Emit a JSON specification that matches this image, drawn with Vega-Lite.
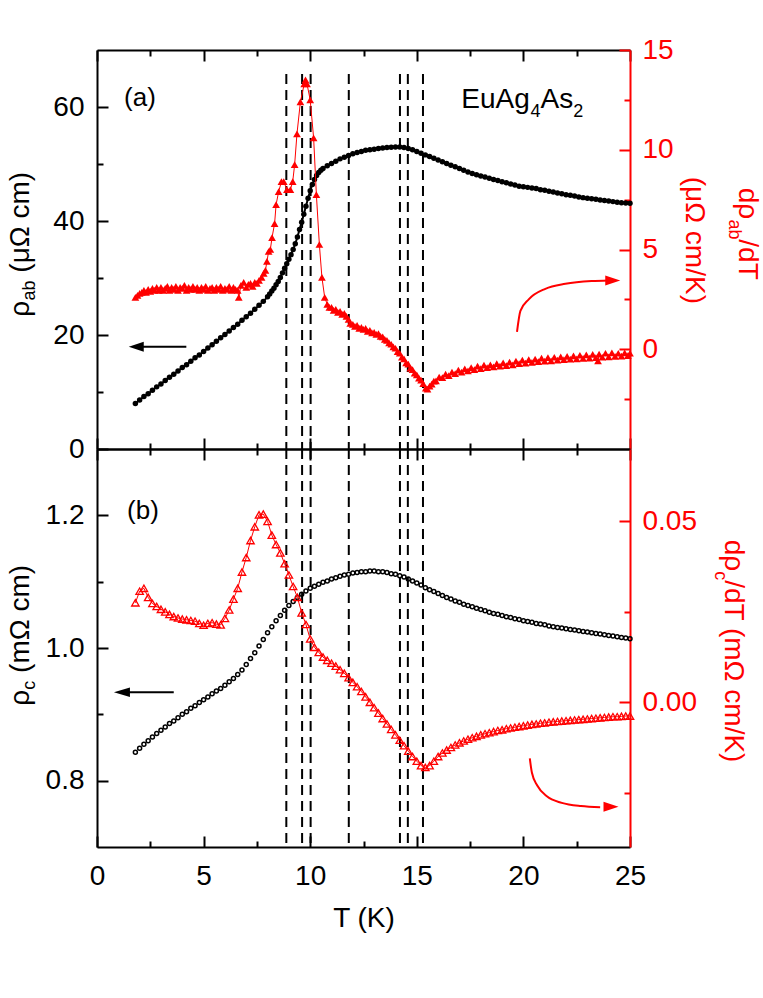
{
"$schema":"https://vega.github.io/schema/vega-lite/v6.json",
"background":"white",
"padding":{"left":7,"top":36,"right":5,"bottom":5},
"spacing":0,
"bounds":"flush",
"config":{"view":{"stroke":null},"font":"Liberation Sans",
"axis":{"grid":false,"domainWidth":2,"tickWidth":2,"domainColor":"black","tickColor":"black","labelColor":"black","labelFont":"Liberation Sans","labelFontSize":28,"titleFont":"Liberation Sans","titleFontSize":28,"titleFontWeight":"normal","titleColor":"black","labelFlush":false,"labelOverlap":false},
"text":{"font":"Liberation Sans","fontSize":28,"color":"black"}},
"datasets":{
"dash":[{"T":8.88},{"T":9.62},{"T":10.02},{"T":11.81},{"T":14.21},{"T":14.58},{"T":15.29}],
"ab":[{"T":1.8,"r":8.0},{"T":2.0,"r":8.6},{"T":2.2,"r":9.2},{"T":2.4,"r":9.7},{"T":2.6,"r":10.3},{"T":2.8,"r":10.9},{"T":3.0,"r":11.4},{"T":3.2,"r":12.0},{"T":3.4,"r":12.6},{"T":3.6,"r":13.1},{"T":3.8,"r":13.7},{"T":4.0,"r":14.3},{"T":4.2,"r":14.8},{"T":4.4,"r":15.4},{"T":4.6,"r":16.0},{"T":4.8,"r":16.5},{"T":5.0,"r":17.1},{"T":5.2,"r":17.7},{"T":5.4,"r":18.3},{"T":5.6,"r":18.9},{"T":5.8,"r":19.5},{"T":6.0,"r":20.1},{"T":6.2,"r":20.7},{"T":6.4,"r":21.3},{"T":6.6,"r":21.9},{"T":6.8,"r":22.6},{"T":7.0,"r":23.2},{"T":7.2,"r":23.8},{"T":7.4,"r":24.5},{"T":7.6,"r":25.2},{"T":7.8,"r":25.9},{"T":8.0,"r":26.7},{"T":8.1,"r":27.2},{"T":8.2,"r":27.7},{"T":8.3,"r":28.2},{"T":8.4,"r":28.8},{"T":8.5,"r":29.4},{"T":8.6,"r":30.1},{"T":8.7,"r":30.9},{"T":8.8,"r":31.7},{"T":8.9,"r":32.5},{"T":9.0,"r":33.3},{"T":9.1,"r":34.1},{"T":9.2,"r":35.0},{"T":9.3,"r":36.0},{"T":9.4,"r":37.2},{"T":9.5,"r":38.5},{"T":9.6,"r":39.8},{"T":9.7,"r":41.2},{"T":9.8,"r":42.6},{"T":9.9,"r":44.0},{"T":10.0,"r":45.3},{"T":10.1,"r":46.4},{"T":10.2,"r":47.3},{"T":10.3,"r":48.0},{"T":10.4,"r":48.5},{"T":10.5,"r":48.9},{"T":10.6,"r":49.2},{"T":10.8,"r":49.7},{"T":11.0,"r":50.1},{"T":11.2,"r":50.5},{"T":11.4,"r":50.9},{"T":11.6,"r":51.2},{"T":11.8,"r":51.5},{"T":12.0,"r":51.8},{"T":12.2,"r":52.0},{"T":12.4,"r":52.2},{"T":12.6,"r":52.4},{"T":12.8,"r":52.5},{"T":13.0,"r":52.6},{"T":13.2,"r":52.7},{"T":13.4,"r":52.8},{"T":13.6,"r":52.9},{"T":13.8,"r":52.95},{"T":14.0,"r":53.0},{"T":14.2,"r":53.0},{"T":14.4,"r":52.9},{"T":14.6,"r":52.7},{"T":14.8,"r":52.5},{"T":15.0,"r":52.2},{"T":15.2,"r":51.9},{"T":15.4,"r":51.6},{"T":15.6,"r":51.3},{"T":15.8,"r":51.0},{"T":16.0,"r":50.7},{"T":16.2,"r":50.4},{"T":16.4,"r":50.1},{"T":16.6,"r":49.8},{"T":16.8,"r":49.5},{"T":17.0,"r":49.2},{"T":17.2,"r":48.9},{"T":17.4,"r":48.6},{"T":17.6,"r":48.35},{"T":17.8,"r":48.1},{"T":18.0,"r":47.9},{"T":18.2,"r":47.7},{"T":18.4,"r":47.5},{"T":18.6,"r":47.3},{"T":18.8,"r":47.1},{"T":19.0,"r":46.9},{"T":19.2,"r":46.7},{"T":19.4,"r":46.5},{"T":19.6,"r":46.3},{"T":19.8,"r":46.1},{"T":20.0,"r":46.0},{"T":20.2,"r":45.9},{"T":20.4,"r":45.8},{"T":20.6,"r":45.7},{"T":20.8,"r":45.5},{"T":21.0,"r":45.4},{"T":21.2,"r":45.2},{"T":21.4,"r":45.1},{"T":21.6,"r":44.9},{"T":21.8,"r":44.8},{"T":22.0,"r":44.6},{"T":22.2,"r":44.5},{"T":22.4,"r":44.4},{"T":22.6,"r":44.2},{"T":22.8,"r":44.1},{"T":23.0,"r":44.0},{"T":23.2,"r":43.9},{"T":23.4,"r":43.8},{"T":23.6,"r":43.7},{"T":23.8,"r":43.6},{"T":24.0,"r":43.5},{"T":24.2,"r":43.4},{"T":24.4,"r":43.3},{"T":24.6,"r":43.2},{"T":24.8,"r":43.15},{"T":25.0,"r":43.1}],
"dab":[{"T":1.8,"d":2.6},{"T":1.9,"d":2.7},{"T":2.0,"d":2.8},{"T":2.1,"d":2.85},{"T":2.2,"d":2.95},{"T":2.3,"d":2.85},{"T":2.4,"d":3.0},{"T":2.5,"d":2.9},{"T":2.6,"d":3.05},{"T":2.7,"d":2.95},{"T":2.8,"d":3.1},{"T":2.9,"d":2.95},{"T":3.0,"d":3.1},{"T":3.1,"d":2.95},{"T":3.2,"d":3.05},{"T":3.3,"d":3.15},{"T":3.4,"d":2.95},{"T":3.5,"d":3.1},{"T":3.6,"d":3.0},{"T":3.7,"d":3.15},{"T":3.8,"d":2.95},{"T":3.9,"d":3.1},{"T":4.0,"d":3.05},{"T":4.1,"d":3.2},{"T":4.2,"d":2.95},{"T":4.3,"d":3.1},{"T":4.4,"d":3.0},{"T":4.5,"d":3.15},{"T":4.6,"d":3.0},{"T":4.7,"d":3.1},{"T":4.8,"d":2.95},{"T":4.9,"d":3.1},{"T":5.0,"d":3.0},{"T":5.1,"d":3.15},{"T":5.2,"d":2.95},{"T":5.3,"d":3.05},{"T":5.4,"d":3.1},{"T":5.5,"d":2.95},{"T":5.6,"d":3.1},{"T":5.7,"d":3.0},{"T":5.8,"d":3.15},{"T":5.9,"d":2.95},{"T":6.0,"d":3.05},{"T":6.1,"d":3.0},{"T":6.2,"d":3.15},{"T":6.3,"d":2.95},{"T":6.4,"d":3.1},{"T":6.5,"d":3.0},{"T":6.6,"d":2.95},{"T":6.65,"d":2.6},{"T":6.75,"d":3.2},{"T":6.88,"d":3.35},{"T":7.0,"d":3.1},{"T":7.1,"d":3.25},{"T":7.2,"d":3.3},{"T":7.3,"d":3.15},{"T":7.4,"d":3.35},{"T":7.5,"d":3.3},{"T":7.6,"d":3.45},{"T":7.72,"d":3.6},{"T":7.82,"d":3.8},{"T":7.9,"d":3.95},{"T":7.97,"d":4.4},{"T":8.05,"d":4.9},{"T":8.13,"d":5.0},{"T":8.21,"d":5.6},{"T":8.33,"d":6.3},{"T":8.4,"d":7.25},{"T":8.52,"d":7.9},{"T":8.65,"d":8.4},{"T":8.76,"d":8.4},{"T":8.91,"d":8.0},{"T":9.07,"d":8.0},{"T":9.18,"d":8.4},{"T":9.27,"d":9.25},{"T":9.38,"d":10.8},{"T":9.54,"d":12.4},{"T":9.72,"d":13.3},{"T":9.78,"d":13.5},{"T":9.85,"d":13.3},{"T":10.0,"d":12.5},{"T":10.16,"d":10.6},{"T":10.29,"d":7.75},{"T":10.43,"d":5.25},{"T":10.55,"d":3.6},{"T":10.68,"d":2.6},{"T":10.8,"d":2.25},{"T":10.9,"d":2.1},{"T":11.0,"d":2.1},{"T":11.1,"d":1.95},{"T":11.2,"d":2.0},{"T":11.3,"d":1.85},{"T":11.4,"d":1.9},{"T":11.5,"d":1.75},{"T":11.6,"d":1.8},{"T":11.7,"d":1.65},{"T":11.8,"d":1.5},{"T":11.88,"d":1.3},{"T":12.0,"d":1.25},{"T":12.1,"d":1.15},{"T":12.2,"d":1.2},{"T":12.3,"d":1.05},{"T":12.4,"d":1.1},{"T":12.5,"d":1.0},{"T":12.6,"d":1.05},{"T":12.7,"d":0.9},{"T":12.8,"d":0.95},{"T":12.9,"d":0.82},{"T":13.0,"d":0.85},{"T":13.1,"d":0.75},{"T":13.2,"d":0.78},{"T":13.3,"d":0.65},{"T":13.4,"d":0.62},{"T":13.5,"d":0.5},{"T":13.6,"d":0.45},{"T":13.7,"d":0.32},{"T":13.8,"d":0.25},{"T":13.9,"d":0.12},{"T":14.0,"d":0.05},{"T":14.1,"d":-0.12},{"T":14.2,"d":-0.2},{"T":14.3,"d":-0.4},{"T":14.4,"d":-0.48},{"T":14.5,"d":-0.68},{"T":14.6,"d":-0.75},{"T":14.7,"d":-0.95},{"T":14.8,"d":-1.02},{"T":14.9,"d":-1.2},{"T":15.0,"d":-1.28},{"T":15.1,"d":-1.45},{"T":15.2,"d":-1.55},{"T":15.3,"d":-1.72},{"T":15.42,"d":-1.95},{"T":15.5,"d":-2.0},{"T":15.6,"d":-1.85},{"T":15.7,"d":-1.75},{"T":15.8,"d":-1.6},{"T":15.9,"d":-1.58},{"T":16.05,"d":-1.4},{"T":16.2,"d":-1.42},{"T":16.35,"d":-1.25},{"T":16.5,"d":-1.32},{"T":16.65,"d":-1.15},{"T":16.8,"d":-1.22},{"T":16.95,"d":-1.05},{"T":17.1,"d":-1.15},{"T":17.25,"d":-0.98},{"T":17.4,"d":-1.08},{"T":17.55,"d":-0.92},{"T":17.7,"d":-1.02},{"T":17.85,"d":-0.85},{"T":18.0,"d":-0.97},{"T":18.15,"d":-0.8},{"T":18.3,"d":-0.92},{"T":18.45,"d":-0.78},{"T":18.6,"d":-0.88},{"T":18.75,"d":-0.72},{"T":18.9,"d":-0.85},{"T":19.05,"d":-0.68},{"T":19.2,"d":-0.82},{"T":19.35,"d":-0.65},{"T":19.5,"d":-0.78},{"T":19.65,"d":-0.6},{"T":19.8,"d":-0.72},{"T":19.95,"d":-0.55},{"T":20.1,"d":-0.7},{"T":20.25,"d":-0.52},{"T":20.4,"d":-0.66},{"T":20.55,"d":-0.5},{"T":20.7,"d":-0.62},{"T":20.85,"d":-0.45},{"T":21.0,"d":-0.6},{"T":21.15,"d":-0.42},{"T":21.3,"d":-0.58},{"T":21.45,"d":-0.4},{"T":21.6,"d":-0.55},{"T":21.75,"d":-0.38},{"T":21.9,"d":-0.52},{"T":22.05,"d":-0.36},{"T":22.2,"d":-0.5},{"T":22.35,"d":-0.33},{"T":22.5,"d":-0.48},{"T":22.65,"d":-0.3},{"T":22.8,"d":-0.46},{"T":22.95,"d":-0.28},{"T":23.1,"d":-0.44},{"T":23.25,"d":-0.26},{"T":23.4,"d":-0.42},{"T":23.5,"d":-0.58},{"T":23.55,"d":-0.24},{"T":23.7,"d":-0.4},{"T":23.85,"d":-0.2},{"T":24.0,"d":-0.38},{"T":24.15,"d":-0.18},{"T":24.3,"d":-0.36},{"T":24.45,"d":-0.2},{"T":24.6,"d":-0.34},{"T":24.75,"d":-0.18},{"T":24.9,"d":-0.32},{"T":25.0,"d":-0.2}],
"c":[{"T":1.8,"r":0.843},{"T":2.0,"r":0.849},{"T":2.2,"r":0.855},{"T":2.4,"r":0.86},{"T":2.6,"r":0.866},{"T":2.8,"r":0.871},{"T":3.0,"r":0.876},{"T":3.2,"r":0.881},{"T":3.4,"r":0.886},{"T":3.6,"r":0.89},{"T":3.8,"r":0.895},{"T":4.0,"r":0.9},{"T":4.2,"r":0.904},{"T":4.4,"r":0.909},{"T":4.6,"r":0.913},{"T":4.8,"r":0.918},{"T":5.0,"r":0.922},{"T":5.2,"r":0.926},{"T":5.4,"r":0.931},{"T":5.6,"r":0.935},{"T":5.8,"r":0.939},{"T":6.0,"r":0.944},{"T":6.2,"r":0.949},{"T":6.4,"r":0.954},{"T":6.6,"r":0.96},{"T":6.8,"r":0.967},{"T":7.0,"r":0.975},{"T":7.2,"r":0.984},{"T":7.4,"r":0.993},{"T":7.6,"r":1.003},{"T":7.8,"r":1.013},{"T":8.0,"r":1.023},{"T":8.2,"r":1.032},{"T":8.4,"r":1.041},{"T":8.6,"r":1.049},{"T":8.8,"r":1.057},{"T":9.0,"r":1.064},{"T":9.2,"r":1.07},{"T":9.4,"r":1.076},{"T":9.6,"r":1.081},{"T":9.8,"r":1.086},{"T":10.0,"r":1.09},{"T":10.2,"r":1.093},{"T":10.4,"r":1.096},{"T":10.6,"r":1.099},{"T":10.8,"r":1.101},{"T":11.0,"r":1.104},{"T":11.2,"r":1.106},{"T":11.4,"r":1.108},{"T":11.6,"r":1.11},{"T":11.8,"r":1.111},{"T":12.0,"r":1.113},{"T":12.2,"r":1.114},{"T":12.4,"r":1.115},{"T":12.6,"r":1.115},{"T":12.8,"r":1.116},{"T":13.0,"r":1.116},{"T":13.2,"r":1.115},{"T":13.4,"r":1.115},{"T":13.6,"r":1.114},{"T":13.8,"r":1.112},{"T":14.0,"r":1.111},{"T":14.2,"r":1.109},{"T":14.4,"r":1.107},{"T":14.6,"r":1.104},{"T":14.8,"r":1.101},{"T":15.0,"r":1.098},{"T":15.2,"r":1.095},{"T":15.4,"r":1.091},{"T":15.6,"r":1.088},{"T":15.8,"r":1.085},{"T":16.0,"r":1.082},{"T":16.2,"r":1.079},{"T":16.4,"r":1.076},{"T":16.6,"r":1.074},{"T":16.8,"r":1.071},{"T":17.0,"r":1.069},{"T":17.2,"r":1.066},{"T":17.4,"r":1.064},{"T":17.6,"r":1.062},{"T":17.8,"r":1.06},{"T":18.0,"r":1.058},{"T":18.2,"r":1.056},{"T":18.4,"r":1.054},{"T":18.6,"r":1.052},{"T":18.8,"r":1.051},{"T":19.0,"r":1.049},{"T":19.2,"r":1.047},{"T":19.4,"r":1.046},{"T":19.6,"r":1.044},{"T":19.8,"r":1.043},{"T":20.0,"r":1.041},{"T":20.2,"r":1.04},{"T":20.4,"r":1.039},{"T":20.6,"r":1.037},{"T":20.8,"r":1.036},{"T":21.0,"r":1.035},{"T":21.2,"r":1.033},{"T":21.4,"r":1.032},{"T":21.6,"r":1.031},{"T":21.8,"r":1.03},{"T":22.0,"r":1.029},{"T":22.2,"r":1.028},{"T":22.4,"r":1.027},{"T":22.6,"r":1.026},{"T":22.8,"r":1.025},{"T":23.0,"r":1.024},{"T":23.2,"r":1.023},{"T":23.4,"r":1.022},{"T":23.6,"r":1.021},{"T":23.8,"r":1.02},{"T":24.0,"r":1.019},{"T":24.2,"r":1.018},{"T":24.4,"r":1.017},{"T":24.6,"r":1.016},{"T":24.8,"r":1.015},{"T":25.0,"r":1.014}],
"dc":[{"T":1.8,"d":0.0275},{"T":2.0,"d":0.0307},{"T":2.2,"d":0.0315},{"T":2.4,"d":0.029},{"T":2.6,"d":0.0273},{"T":2.8,"d":0.0265},{"T":3.0,"d":0.0257},{"T":3.2,"d":0.025},{"T":3.4,"d":0.0243},{"T":3.6,"d":0.0237},{"T":3.8,"d":0.0233},{"T":4.0,"d":0.023},{"T":4.2,"d":0.0228},{"T":4.4,"d":0.0226},{"T":4.6,"d":0.0224},{"T":4.8,"d":0.0218},{"T":5.0,"d":0.0213},{"T":5.2,"d":0.0218},{"T":5.4,"d":0.022},{"T":5.6,"d":0.0216},{"T":5.8,"d":0.0214},{"T":6.0,"d":0.0232},{"T":6.2,"d":0.0255},{"T":6.4,"d":0.0285},{"T":6.6,"d":0.0315},{"T":6.8,"d":0.036},{"T":7.0,"d":0.04},{"T":7.2,"d":0.0447},{"T":7.4,"d":0.0485},{"T":7.6,"d":0.0518},{"T":7.8,"d":0.052},{"T":8.0,"d":0.05},{"T":8.2,"d":0.0462},{"T":8.4,"d":0.0436},{"T":8.6,"d":0.0413},{"T":8.8,"d":0.0383},{"T":9.0,"d":0.0352},{"T":9.2,"d":0.032},{"T":9.4,"d":0.029},{"T":9.6,"d":0.0247},{"T":9.8,"d":0.0215},{"T":10.0,"d":0.0175},{"T":10.2,"d":0.0152},{"T":10.4,"d":0.0138},{"T":10.6,"d":0.0125},{"T":10.8,"d":0.0116},{"T":11.0,"d":0.0108},{"T":11.2,"d":0.01},{"T":11.4,"d":0.009},{"T":11.6,"d":0.008},{"T":11.8,"d":0.0068},{"T":12.0,"d":0.0055},{"T":12.2,"d":0.0043},{"T":12.4,"d":0.003},{"T":12.6,"d":0.0015},{"T":12.8,"d":0.0},{"T":13.0,"d":-0.0015},{"T":13.2,"d":-0.003},{"T":13.4,"d":-0.0045},{"T":13.6,"d":-0.006},{"T":13.8,"d":-0.0075},{"T":14.0,"d":-0.009},{"T":14.2,"d":-0.0105},{"T":14.4,"d":-0.012},{"T":14.6,"d":-0.0135},{"T":14.8,"d":-0.015},{"T":15.0,"d":-0.0163},{"T":15.2,"d":-0.0175},{"T":15.4,"d":-0.018},{"T":15.6,"d":-0.0175},{"T":15.8,"d":-0.0163},{"T":16.0,"d":-0.015},{"T":16.2,"d":-0.014},{"T":16.4,"d":-0.0132},{"T":16.6,"d":-0.0125},{"T":16.8,"d":-0.0118},{"T":17.0,"d":-0.0112},{"T":17.2,"d":-0.0107},{"T":17.4,"d":-0.0102},{"T":17.6,"d":-0.0098},{"T":17.8,"d":-0.0094},{"T":18.0,"d":-0.009},{"T":18.2,"d":-0.0087},{"T":18.4,"d":-0.0084},{"T":18.6,"d":-0.0081},{"T":18.8,"d":-0.0078},{"T":19.0,"d":-0.0076},{"T":19.2,"d":-0.0073},{"T":19.4,"d":-0.0071},{"T":19.6,"d":-0.0069},{"T":19.8,"d":-0.0067},{"T":20.0,"d":-0.0065},{"T":20.2,"d":-0.0063},{"T":20.4,"d":-0.0061},{"T":20.6,"d":-0.006},{"T":20.8,"d":-0.0058},{"T":21.0,"d":-0.0057},{"T":21.2,"d":-0.0055},{"T":21.4,"d":-0.0054},{"T":21.6,"d":-0.0053},{"T":21.8,"d":-0.0052},{"T":22.0,"d":-0.0051},{"T":22.2,"d":-0.005},{"T":22.4,"d":-0.0049},{"T":22.6,"d":-0.0048},{"T":22.8,"d":-0.0047},{"T":23.0,"d":-0.0046},{"T":23.2,"d":-0.0045},{"T":23.4,"d":-0.0044},{"T":23.6,"d":-0.0043},{"T":23.8,"d":-0.0042},{"T":24.0,"d":-0.0041},{"T":24.2,"d":-0.004},{"T":24.4,"d":-0.004},{"T":24.6,"d":-0.0039},{"T":24.8,"d":-0.0038},{"T":25.0,"d":-0.0038}],
"arrA":[{"T":19.7,"d":0.87},{"T":19.86,"d":1.92},{"T":20.25,"d":2.5},{"T":21.03,"d":3.03},{"T":21.97,"d":3.28},{"T":23.2,"d":3.42},{"T":24.0,"d":3.45}],
"arrC":[{"T":20.3,"d":-0.0155},{"T":20.4,"d":-0.0195},{"T":20.65,"d":-0.023},{"T":21.1,"d":-0.026},{"T":21.8,"d":-0.0278},{"T":22.7,"d":-0.0287},{"T":23.6,"d":-0.029}]
},
"vconcat":[
{"width":533,"height":399,
"layer":[
{"layer":[
{"data":{"name":"dash"},"mark":{"type":"rule","strokeDash":[10,6],"strokeWidth":2,"color":"black"},
"encoding":{"x":{"field":"T","type":"quantitative","scale":{"domain":[0,25],"nice":false,"zero":false},"axis":null},
"y":{"datum":65.8,"type":"quantitative","scale":{"domain":[0,70],"nice":false,"zero":false},"axis":null},"y2":{"datum":0}}},
{"data":{"name":"ab"},"mark":{"type":"line","color":"black","strokeWidth":2},
"encoding":{"x":{"field":"T","type":"quantitative","scale":{"domain":[0,25],"nice":false,"zero":false},"axis":{"orient":"bottom","values":[2.5,7.5,12.5,17.5,22.5],"labels":false,"domain":false,"tickSize":-6,"title":null}},
"y":{"field":"r","type":"quantitative","scale":{"domain":[0,70],"nice":false,"zero":false},"axis":{"orient":"left","values":[10,30,50],"labels":false,"domain":false,"tickSize":-6,"title":null}}}},
{"data":{"name":"ab"},"mark":{"type":"point","filled":true,"color":"black","size":30,"opacity":1},
"encoding":{"x":{"field":"T","type":"quantitative","scale":{"domain":[0,25],"nice":false,"zero":false},"axis":{"orient":"bottom","values":[0,5,10,15,20,25],"labels":false,"tickSize":-11,"title":null}},
"y":{"field":"r","type":"quantitative","scale":{"domain":[0,70],"nice":false,"zero":false},"axis":{"orient":"left","values":[0,20,40,60],"tickSize":-11,"labelPadding":24,"title":null}}}},
{"data":{"values":[{}]},"mark":{"type":"rule","color":"black","strokeWidth":2},
"encoding":{"x":{"datum":4.19,"type":"quantitative","scale":{"domain":[0,25],"nice":false,"zero":false},"axis":null},"x2":{"datum":1.84},
"y":{"datum":17.95,"type":"quantitative","scale":{"domain":[0,70],"nice":false,"zero":false},"axis":null}}},
{"data":{"values":[{}]},"mark":{"type":"point","shape":"M-1,0L1,-0.67L1,0.67Z","filled":true,"color":"black","size":225,"opacity":1},
"encoding":{"x":{"datum":1.84,"type":"quantitative","scale":{"domain":[0,25],"nice":false,"zero":false},"axis":null},
"y":{"datum":17.95,"type":"quantitative","scale":{"domain":[0,70],"nice":false,"zero":false},"axis":null}}},
{"data":{"values":[{}]},"mark":{"type":"text","text":"(a)","align":"left","baseline":"alphabetic","fontSize":26},
"encoding":{"x":{"datum":1.27,"type":"quantitative","scale":{"domain":[0,25],"nice":false,"zero":false},"axis":null},
"y":{"datum":60.1,"type":"quantitative","scale":{"domain":[0,70],"nice":false,"zero":false},"axis":null}}},
{"data":{"values":[{}]},"mark":{"type":"text","text":"EuAg","align":"left","baseline":"alphabetic","fontSize":28},
"encoding":{"x":{"datum":17.09,"type":"quantitative","scale":{"domain":[0,25],"nice":false,"zero":false},"axis":null},
"y":{"datum":59.82,"type":"quantitative","scale":{"domain":[0,70],"nice":false,"zero":false},"axis":null}}},
{"data":{"values":[{}]},"mark":{"type":"text","text":"4","align":"left","baseline":"alphabetic","fontSize":18},
"encoding":{"x":{"datum":20.33,"type":"quantitative","scale":{"domain":[0,25],"nice":false,"zero":false},"axis":null},
"y":{"datum":58.25,"type":"quantitative","scale":{"domain":[0,70],"nice":false,"zero":false},"axis":null}}},
{"data":{"values":[{}]},"mark":{"type":"text","text":"As","align":"left","baseline":"alphabetic","fontSize":28},
"encoding":{"x":{"datum":20.8,"type":"quantitative","scale":{"domain":[0,25],"nice":false,"zero":false},"axis":null},
"y":{"datum":59.82,"type":"quantitative","scale":{"domain":[0,70],"nice":false,"zero":false},"axis":null}}},
{"data":{"values":[{}]},"mark":{"type":"text","text":"2","align":"left","baseline":"alphabetic","fontSize":18},
"encoding":{"x":{"datum":22.34,"type":"quantitative","scale":{"domain":[0,25],"nice":false,"zero":false},"axis":null},
"y":{"datum":58.25,"type":"quantitative","scale":{"domain":[0,70],"nice":false,"zero":false},"axis":null}}},
{"data":{"values":[{}]},"mark":{"type":"text","text":"ρ","angle":270,"align":"left","baseline":"alphabetic","fontSize":28},
"encoding":{"x":{"datum":-3.18,"type":"quantitative","scale":{"domain":[0,25],"nice":false,"zero":false},"axis":null},
"y":{"datum":23.2,"type":"quantitative","scale":{"domain":[0,70],"nice":false,"zero":false},"axis":null}}},
{"data":{"values":[{}]},"mark":{"type":"text","text":"ab","angle":270,"align":"left","baseline":"alphabetic","fontSize":18},
"encoding":{"x":{"datum":-2.9,"type":"quantitative","scale":{"domain":[0,25],"nice":false,"zero":false},"axis":null},
"y":{"datum":26.05,"type":"quantitative","scale":{"domain":[0,70],"nice":false,"zero":false},"axis":null}}},
{"data":{"values":[{}]},"mark":{"type":"text","text":"(μΩ cm)","angle":270,"align":"left","baseline":"alphabetic","fontSize":28},
"encoding":{"x":{"datum":-3.18,"type":"quantitative","scale":{"domain":[0,25],"nice":false,"zero":false},"axis":null},
"y":{"datum":30.93,"type":"quantitative","scale":{"domain":[0,70],"nice":false,"zero":false},"axis":null}}}
],"resolve":{"axis":{"x":"independent","y":"independent"}}},
{"layer":[
{"data":{"name":"dab"},"mark":{"type":"line","color":"red","strokeWidth":1},
"encoding":{"x":{"field":"T","type":"quantitative","scale":{"domain":[0,25],"nice":false,"zero":false},"axis":{"orient":"top","values":[2.5,7.5,12.5,17.5,22.5],"labels":false,"domain":false,"tickSize":-6,"title":null}},
"y":{"field":"d","type":"quantitative","scale":{"domain":[-5,15],"nice":false,"zero":false},"axis":{"orient":"right","values":[-2.5,2.5,7.5,12.5],"labels":false,"domain":false,"tickSize":-6,"tickColor":"red","title":null}}}},
{"data":{"name":"dab"},"mark":{"type":"point","shape":"triangle-up","filled":true,"color":"red","size":60,"opacity":1},
"encoding":{"x":{"field":"T","type":"quantitative","scale":{"domain":[0,25],"nice":false,"zero":false},"axis":{"orient":"top","values":[0,5,10,15,20,25],"labels":false,"tickSize":-11,"title":null}},
"y":{"field":"d","type":"quantitative","scale":{"domain":[-5,15],"nice":false,"zero":false},"axis":{"orient":"right","values":[0,5,10,15],"tickSize":-11,"labelPadding":23,"domainColor":"red","tickColor":"red","labelColor":"red","title":null}}}},
{"data":{"name":"arrA"},"mark":{"type":"line","color":"red","strokeWidth":2,"interpolate":"monotone"},
"encoding":{"x":{"field":"T","type":"quantitative","scale":{"domain":[0,25],"nice":false,"zero":false},"axis":null},
"y":{"field":"d","type":"quantitative","scale":{"domain":[-5,15],"nice":false,"zero":false},"axis":null}}},
{"data":{"values":[{}]},"mark":{"type":"point","shape":"M1,0L-1,-0.67L-1,0.67Z","filled":true,"color":"red","size":225,"opacity":1},
"encoding":{"x":{"datum":24.19,"type":"quantitative","scale":{"domain":[0,25],"nice":false,"zero":false},"axis":null},
"y":{"datum":3.45,"type":"quantitative","scale":{"domain":[-5,15],"nice":false,"zero":false},"axis":null}}},
{"data":{"values":[{}]},"mark":{"type":"text","text":"dρ","angle":90,"align":"left","baseline":"alphabetic","fontSize":28,"color":"red"},
"encoding":{"x":{"datum":30.09,"type":"quantitative","scale":{"domain":[0,25],"nice":false,"zero":false},"axis":null},
"y":{"datum":8.1,"type":"quantitative","scale":{"domain":[-5,15],"nice":false,"zero":false},"axis":null}}},
{"data":{"values":[{}]},"mark":{"type":"text","text":"ab","angle":90,"align":"left","baseline":"alphabetic","fontSize":18,"color":"red"},
"encoding":{"x":{"datum":29.63,"type":"quantitative","scale":{"domain":[0,25],"nice":false,"zero":false},"axis":null},
"y":{"datum":6.51,"type":"quantitative","scale":{"domain":[-5,15],"nice":false,"zero":false},"axis":null}}},
{"data":{"values":[{}]},"mark":{"type":"text","text":"/dT","angle":90,"align":"left","baseline":"alphabetic","fontSize":28,"color":"red"},
"encoding":{"x":{"datum":30.09,"type":"quantitative","scale":{"domain":[0,25],"nice":false,"zero":false},"axis":null},
"y":{"datum":5.51,"type":"quantitative","scale":{"domain":[-5,15],"nice":false,"zero":false},"axis":null}}},
{"data":{"values":[{}]},"mark":{"type":"text","text":"(μΩ cm/K)","angle":90,"align":"left","baseline":"alphabetic","fontSize":28,"color":"red"},
"encoding":{"x":{"datum":27.62,"type":"quantitative","scale":{"domain":[0,25],"nice":false,"zero":false},"axis":null},
"y":{"datum":8.65,"type":"quantitative","scale":{"domain":[-5,15],"nice":false,"zero":false},"axis":null}}}
],"resolve":{"axis":{"x":"independent","y":"independent"}}}
],
"resolve":{"scale":{"y":"independent"},"axis":{"x":"independent","y":"independent"}}},
{"width":533,"height":398,
"layer":[
{"layer":[
{"data":{"name":"dash"},"mark":{"type":"rule","strokeDash":[10,6],"strokeWidth":2,"color":"black"},
"encoding":{"x":{"field":"T","type":"quantitative","scale":{"domain":[0,25],"nice":false,"zero":false},"axis":{"orient":"bottom","values":[2.5,7.5,12.5,17.5,22.5],"labels":false,"domain":false,"tickSize":-6,"title":null}},
"y":{"datum":1.3,"type":"quantitative","scale":{"domain":[0.7,1.3],"nice":false,"zero":false},"axis":{"orient":"left","values":[0.9,1.1],"labels":false,"domain":false,"tickSize":-6,"title":null}},"y2":{"datum":0.7}}},
{"data":{"name":"c"},"mark":{"type":"point","filled":false,"color":"black","size":16,"strokeWidth":1.5,"opacity":1},
"encoding":{"x":{"field":"T","type":"quantitative","scale":{"domain":[0,25],"nice":false,"zero":false},"axis":{"orient":"bottom","values":[0,5,10,15,20,25],"format":"d","tickSize":-11,"labelPadding":26,"title":"T (K)","titlePadding":14}},
"y":{"field":"r","type":"quantitative","scale":{"domain":[0.7,1.3],"nice":false,"zero":false},"axis":{"orient":"left","values":[0.8,1.0,1.2],"format":".1f","tickSize":-11,"labelPadding":24,"title":null}}}},
{"data":{"values":[{}]},"mark":{"type":"rule","color":"black","strokeWidth":2},
"encoding":{"x":{"datum":3.6,"type":"quantitative","scale":{"domain":[0,25],"nice":false,"zero":false},"axis":null},"x2":{"datum":1.17},
"y":{"datum":0.9334,"type":"quantitative","scale":{"domain":[0.7,1.3],"nice":false,"zero":false},"axis":null}}},
{"data":{"values":[{}]},"mark":{"type":"point","shape":"M-1,0L1,-0.6L1,0.6Z","filled":true,"color":"black","size":256,"opacity":1},
"encoding":{"x":{"datum":1.17,"type":"quantitative","scale":{"domain":[0,25],"nice":false,"zero":false},"axis":null},
"y":{"datum":0.9334,"type":"quantitative","scale":{"domain":[0.7,1.3],"nice":false,"zero":false},"axis":null}}},
{"data":{"values":[{}]},"mark":{"type":"text","text":"(b)","align":"left","baseline":"alphabetic","fontSize":26},
"encoding":{"x":{"datum":1.41,"type":"quantitative","scale":{"domain":[0,25],"nice":false,"zero":false},"axis":null},
"y":{"datum":1.1947,"type":"quantitative","scale":{"domain":[0.7,1.3],"nice":false,"zero":false},"axis":null}}},
{"data":{"values":[{}]},"mark":{"type":"text","text":"ρ","angle":270,"align":"left","baseline":"alphabetic","fontSize":28},
"encoding":{"x":{"datum":-3.18,"type":"quantitative","scale":{"domain":[0,25],"nice":false,"zero":false},"axis":null},
"y":{"datum":0.9128,"type":"quantitative","scale":{"domain":[0.7,1.3],"nice":false,"zero":false},"axis":null}}},
{"data":{"values":[{}]},"mark":{"type":"text","text":"c","angle":270,"align":"left","baseline":"alphabetic","fontSize":18},
"encoding":{"x":{"datum":-2.9,"type":"quantitative","scale":{"domain":[0,25],"nice":false,"zero":false},"axis":null},
"y":{"datum":0.9371,"type":"quantitative","scale":{"domain":[0.7,1.3],"nice":false,"zero":false},"axis":null}}},
{"data":{"values":[{}]},"mark":{"type":"text","text":"(mΩ cm)","angle":270,"align":"left","baseline":"alphabetic","fontSize":28},
"encoding":{"x":{"datum":-3.18,"type":"quantitative","scale":{"domain":[0,25],"nice":false,"zero":false},"axis":null},
"y":{"datum":0.9624,"type":"quantitative","scale":{"domain":[0.7,1.3],"nice":false,"zero":false},"axis":null}}}
],"resolve":{"axis":{"x":"independent","y":"independent"}}},
{"layer":[
{"data":{"name":"dc"},"mark":{"type":"line","color":"red","strokeWidth":1},
"encoding":{"x":{"field":"T","type":"quantitative","scale":{"domain":[0,25],"nice":false,"zero":false},"axis":{"orient":"top","values":[2.5,7.5,12.5,17.5,22.5],"labels":false,"domain":false,"tickSize":-6,"title":null}},
"y":{"field":"d","type":"quantitative","scale":{"domain":[-0.04,0.07],"nice":false,"zero":false},"axis":{"orient":"right","values":[-0.025,0.025],"labels":false,"domain":false,"tickSize":-6,"tickColor":"red","title":null}}}},
{"data":{"name":"dc"},"mark":{"type":"point","shape":"triangle-up","filled":false,"color":"red","size":55,"strokeWidth":1.3,"opacity":1},
"encoding":{"x":{"field":"T","type":"quantitative","scale":{"domain":[0,25],"nice":false,"zero":false},"axis":{"orient":"top","values":[0,5,10,15,20,25],"labels":false,"tickSize":-11,"title":null}},
"y":{"field":"d","type":"quantitative","scale":{"domain":[-0.04,0.07],"nice":false,"zero":false},"axis":{"orient":"right","values":[0,0.05],"format":".2f","tickSize":-11,"labelPadding":23,"domainColor":"red","tickColor":"red","labelColor":"red","title":null}}}},
{"data":{"name":"arrC"},"mark":{"type":"line","color":"red","strokeWidth":2,"interpolate":"monotone"},
"encoding":{"x":{"field":"T","type":"quantitative","scale":{"domain":[0,25],"nice":false,"zero":false},"axis":null},
"y":{"field":"d","type":"quantitative","scale":{"domain":[-0.04,0.07],"nice":false,"zero":false},"axis":null}}},
{"data":{"values":[{}]},"mark":{"type":"point","shape":"M1,0L-1,-0.67L-1,0.67Z","filled":true,"color":"red","size":225,"opacity":1},
"encoding":{"x":{"datum":24.11,"type":"quantitative","scale":{"domain":[0,25],"nice":false,"zero":false},"axis":null},
"y":{"datum":-0.0289,"type":"quantitative","scale":{"domain":[-0.04,0.07],"nice":false,"zero":false},"axis":null}}},
{"data":{"values":[{}]},"mark":{"type":"text","text":"dρ","angle":90,"align":"left","baseline":"alphabetic","fontSize":28,"color":"red"},
"encoding":{"x":{"datum":29.45,"type":"quantitative","scale":{"domain":[0,25],"nice":false,"zero":false},"axis":null},
"y":{"datum":0.04495,"type":"quantitative","scale":{"domain":[-0.04,0.07],"nice":false,"zero":false},"axis":null}}},
{"data":{"values":[{}]},"mark":{"type":"text","text":"c","angle":90,"align":"left","baseline":"alphabetic","fontSize":18,"color":"red"},
"encoding":{"x":{"datum":28.98,"type":"quantitative","scale":{"domain":[0,25],"nice":false,"zero":false},"axis":null},
"y":{"datum":0.03621,"type":"quantitative","scale":{"domain":[-0.04,0.07],"nice":false,"zero":false},"axis":null}}},
{"data":{"values":[{}]},"mark":{"type":"text","text":"/dT (mΩ cm/K)","angle":90,"align":"left","baseline":"alphabetic","fontSize":28,"color":"red"},
"encoding":{"x":{"datum":29.45,"type":"quantitative","scale":{"domain":[0,25],"nice":false,"zero":false},"axis":null},
"y":{"datum":0.03373,"type":"quantitative","scale":{"domain":[-0.04,0.07],"nice":false,"zero":false},"axis":null}}}
],"resolve":{"axis":{"x":"independent","y":"independent"}}}
],
"resolve":{"scale":{"y":"independent"},"axis":{"x":"independent","y":"independent"}}}
]
}
